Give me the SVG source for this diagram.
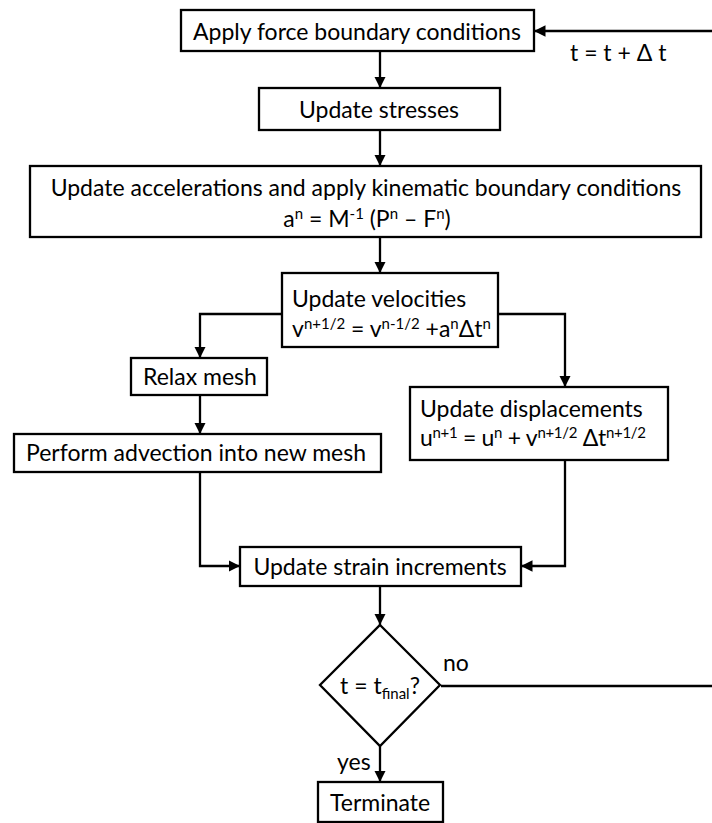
<svg xmlns="http://www.w3.org/2000/svg" width="712" height="823" viewBox="0 0 712 823">
<defs>
<style>
.box{fill:#fff;stroke:#000;stroke-width:2.3}
.t{font-family:Lato,"Open Sans","Liberation Sans",sans-serif;font-size:23px;fill:#000}
.c{text-anchor:middle}
.s{font-size:15px}
.edge{fill:none;stroke:#000;stroke-width:2.3}
</style>
<marker id="ah" viewBox="0 0 10 10" refX="10" refY="5" markerWidth="5" markerHeight="5" orient="auto" markerUnits="strokeWidth">
<path d="M0,0 L10,5 L0,10 z" fill="#000"/>
</marker>
</defs>
<rect width="712" height="823" fill="#fff"/>
<g id="connectors">
<path class="edge" d="M380,51 V88" marker-end="url(#ah)"/>
<path class="edge" d="M380,130 V166" marker-end="url(#ah)"/>
<path class="edge" d="M380,237 V273" marker-end="url(#ah)"/>
<path class="edge" d="M282,314 H200 V358" marker-end="url(#ah)"/>
<path class="edge" d="M498,314 H565 V387" marker-end="url(#ah)"/>
<path class="edge" d="M200,395 V434" marker-end="url(#ah)"/>
<path class="edge" d="M200,472 V566 H240" marker-end="url(#ah)"/>
<path class="edge" d="M565,460 V566 H521" marker-end="url(#ah)"/>
<path class="edge" d="M380,586 V625" marker-end="url(#ah)"/>
<path class="edge" d="M380,746 V782" marker-end="url(#ah)"/>
<path class="edge" d="M441,686 H714 V31 H534" marker-end="url(#ah)"/>
<text class="t" x="570" y="61">t = t + Δ t</text>
<text class="t" x="443" y="671">no</text>
<text class="t" x="337" y="770">yes</text>
</g>
<g id="n1">
<rect class="box" x="181" y="10" width="353" height="41"/>
<text class="t" x="193" y="40">Apply force boundary conditions</text>
</g>
<g id="n2">
<rect class="box" x="259" y="88" width="241" height="42"/>
<text class="t c" x="379" y="118">Update stresses</text>
</g>
<g id="n3">
<rect class="box" x="30" y="166" width="671" height="71"/>
<text class="t c" x="366" y="196">Update accelerations and apply kinematic boundary conditions</text>
<text class="t c" x="367" y="227">a<tspan class="s" dy="-8">n</tspan><tspan dy="8"> = M</tspan><tspan class="s" dy="-8">-1</tspan><tspan dy="8"> (P</tspan><tspan class="s" dy="-8">n</tspan><tspan dy="8"> – F</tspan><tspan class="s" dy="-8">n</tspan><tspan dy="8">)</tspan></text>
</g>
<g id="n4">
<rect class="box" x="282" y="273" width="216" height="74"/>
<text class="t" x="292" y="307">Update velocities</text>
<text class="t" x="292" y="337">v<tspan class="s" dy="-8">n+1/2</tspan><tspan dy="8"> = v</tspan><tspan class="s" dy="-8">n-1/2</tspan><tspan dy="8"> +a</tspan><tspan class="s" dy="-8">n</tspan><tspan dy="8">Δt</tspan><tspan class="s" dy="-8">n</tspan></text>
</g>
<g id="n5">
<rect class="box" x="131" y="358" width="136" height="37"/>
<text class="t" x="143" y="385">Relax mesh</text>
</g>
<g id="n6">
<rect class="box" x="410" y="387" width="258" height="73"/>
<text class="t" x="420" y="417">Update displacements</text>
<text class="t" x="420" y="446" textLength="226">u<tspan class="s" dy="-8">n+1</tspan><tspan dy="8"> = u</tspan><tspan class="s" dy="-8">n</tspan><tspan dy="8"> + v</tspan><tspan class="s" dy="-8">n+1/2</tspan><tspan dy="8"> Δt</tspan><tspan class="s" dy="-8">n+1/2</tspan></text>
</g>
<g id="n7">
<rect class="box" x="14" y="434" width="367" height="38"/>
<text class="t" x="26" y="461">Perform advection into new mesh</text>
</g>
<g id="n8">
<rect class="box" x="240" y="547" width="281" height="39"/>
<text class="t c" x="380" y="575">Update strain increments</text>
</g>
<g id="n9">
<path class="box" d="M380,625 L440,685 L380,746 L320,685 Z"/>
<text class="t c" x="380" y="694">t = t<tspan class="s" dy="5">final</tspan><tspan dy="-5">?</tspan></text>
</g>
<g id="n10">
<rect class="box" x="318" y="782" width="125" height="40"/>
<text class="t" x="330" y="811">Terminate</text>
</g>
</svg>
